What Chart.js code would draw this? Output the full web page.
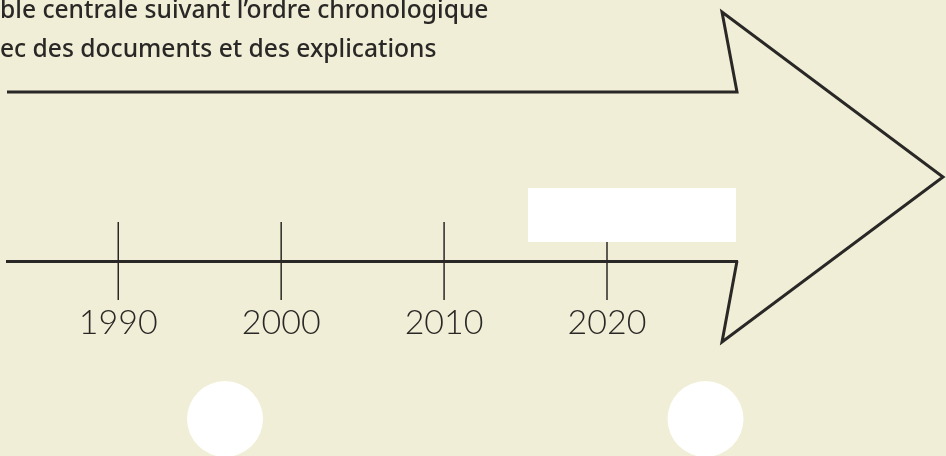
<!DOCTYPE html>
<html>
<head>
<meta charset="utf-8">
<script src="https://cdn.jsdelivr.net/npm/chart.js@4/dist/chart.umd.min.js"></script>
<style>
  html, body { margin: 0; padding: 0; background: #f0eed6; }
  #wrap { width: 946px; height: 456px; position: relative; }
</style>
</head>
<body>
<div id="wrap"><canvas id="frise"></canvas></div>
<script>
// données de la frise
const annees = [1990, 2000, 2010, 2020];
const etiquettes = ['1990', '2000', '2010', '2020'];
const consigne = [
  'ble centrale suivant l’ordre chronologique',
  'ec des documents et des explications'
];

const encre = '#2a2826';

// la flèche, le cadre blanc et les pastilles autour de la ligne du temps
const decor = {
  id: 'decor',
  afterDraw(chart) {
    const ctx = chart.ctx;
    const zone = chart.chartArea;
    const yAxe = chart.scales.y.getPixelForValue(0);
    ctx.save();

    // fleche
    ctx.strokeStyle = encre;
    ctx.lineWidth = 3;
    ctx.lineJoin = 'miter';
    ctx.beginPath();
    ctx.moveTo(zone.left, 92);
    ctx.lineTo(zone.right, 92);
    ctx.lineTo(zone.right - 15, 12);
    ctx.lineTo(zone.right + 206, 177);
    ctx.lineTo(zone.right - 15, 342);
    ctx.lineTo(zone.right, yAxe);
    ctx.stroke();

    // cadre blanc
    ctx.fillStyle = '#ffffff';
    ctx.fillRect(528, 188, 208, 54);

    // pastilles
    [225, 705.5].forEach(cx => {
      ctx.beginPath();
      ctx.arc(cx, 419, 38, 0, Math.PI * 2);
      ctx.fill();
    });

    // texte
    ctx.fillStyle = encre;
    ctx.textBaseline = 'alphabetic';
    ctx.font = '500 19px "Noto Sans"';
    const k = 489 / ctx.measureText(consigne[0]).width;
    ctx.font = '500 ' + (19 * k).toFixed(1) + 'px "Noto Sans"';
    ctx.fillText(consigne[0], 0, 18);
    ctx.fillText(consigne[1], 0, 57);
    ctx.restore();
  }
};

new Chart(document.getElementById('frise'), {
  type: 'scatter',
  data: {
    datasets: [{
      label: 'Repères',
      data: annees.map(a => ({ x: a, y: 0 })),
      pointStyle: 'line',
      rotation: 90,
      pointRadius: 39,
      pointHoverRadius: 39,
      borderColor: encre,
      borderWidth: 1.5,
      clip: false
    }]
  },
  options: {
    responsive: true,
    maintainAspectRatio: false,
    animation: false,
    events: [],
    layout: {
      autoPadding: false,
      padding: { left: 7, right: 209, top: 222, bottom: 156 }
    },
    plugins: {
      legend: { display: false },
      tooltip: { enabled: false }
    },
    scales: {
      x: {
        type: 'linear',
        position: { y: 0 },
        min: 1983.17,
        max: 2027.98,
        afterBuildTicks: s => { s.ticks = annees.map(a => ({ value: a })); },
        afterFit: s => { s.paddingLeft = 0; s.paddingRight = 0; },
        grid: { display: true, drawOnChartArea: false, drawTicks: false },
        border: { display: true, color: encre, width: 3 },
        ticks: {
          autoSkip: false,
          maxRotation: 0,
          padding: 42,
          color: encre,
          font: { family: 'Lato', size: 34, weight: 300 },
          callback: (v, i) => etiquettes[i]
        }
      },
      y: {
        display: false,
        min: -1,
        max: 1
      }
    }
  },
  plugins: [decor]
});
</script>
</body>
</html>
